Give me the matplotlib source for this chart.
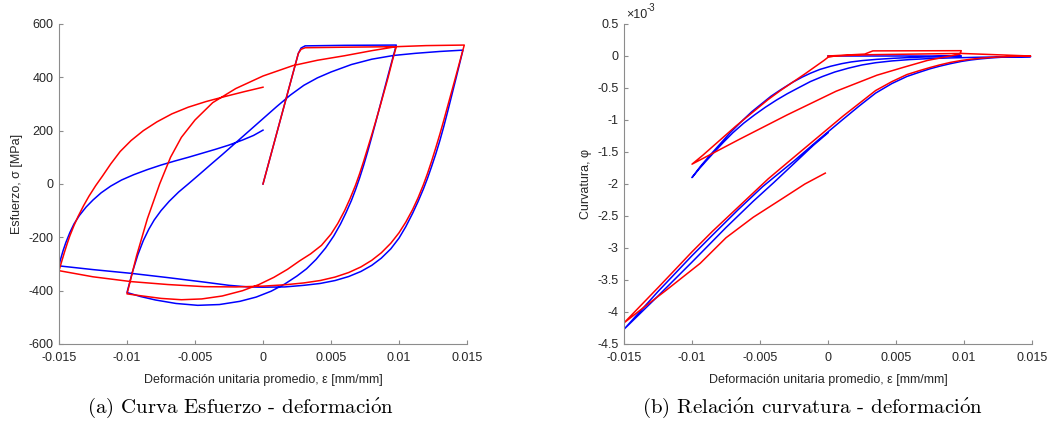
import matplotlib
matplotlib.use("Agg")
import matplotlib.pyplot as plt
import matplotlib.ticker as mt
import numpy as np

plt.rcParams['font.family'] = ['Liberation Sans', 'DejaVu Sans']
plt.rcParams['axes.unicode_minus'] = False
plt.rcParams['mathtext.fontset'] = 'cm'

# ---- esfuerzo - deformacion (eps, MPa), rama por rama ----
red_sig = [
    # carga inicial
    [(0, 0), (0.0026, 490), (0.0028, 505), (0.0031, 511), (0.006, 513), (0.0098, 515)],
    # descarga 1
    [(0.0095, 460), (0.0092, 400), (0.0089, 345), (0.0086, 290), (0.0083, 237), (0.008, 185),
     (0.0077, 135), (0.0074, 85), (0.0071, 38), (0.0068, -5), (0.0064, -55), (0.006, -100),
     (0.0055, -148), (0.005, -188), (0.0043, -230), (0.0035, -262), (0.0027, -288),
     (0.0018, -320), (0.0008, -350), (-0.0003, -377), (-0.0015, -400), (-0.003, -420),
     (-0.0045, -431), (-0.006, -434), (-0.0075, -429), (-0.009, -419), (-0.01, -412)],
    # recarga 1
    [(-0.0093, -270), (-0.0085, -130), (-0.0076, 0), (-0.0068, 100), (-0.006, 175),
     (-0.005, 240), (-0.0037, 305), (-0.002, 358), (0, 405), (0.0022, 444), (0.004, 464),
     (0.006, 481), (0.008, 500), (0.0098, 515), (0.012, 519), (0.0148, 521)],
    # descarga 2
    [(0.0145, 465), (0.0142, 408), (0.0139, 352), (0.0136, 296), (0.0133, 240), (0.013, 186),
     (0.0127, 135), (0.0124, 86), (0.0121, 40), (0.0118, -2), (0.0114, -52), (0.011, -96),
     (0.0105, -143), (0.01, -183), (0.0094, -222), (0.0087, -258), (0.008, -286),
     (0.0072, -311), (0.0063, -332), (0.0053, -349), (0.0042, -362), (0.003, -371),
     (0.0016, -378), (0, -383), (-0.002, -386), (-0.0043, -385), (-0.007, -377),
     (-0.0097, -366), (-0.0125, -348), (-0.015, -325)],
    # recarga 2
    [(-0.0148, -290), (-0.0146, -256), (-0.0144, -224), (-0.0142, -194), (-0.0139, -156),
     (-0.0136, -122), (-0.0132, -82), (-0.0128, -46), (-0.0123, -6), (-0.0118, 30),
     (-0.0112, 75), (-0.0105, 122), (-0.0097, 163), (-0.0088, 200), (-0.0078, 233),
     (-0.0067, 263), (-0.0055, 288), (-0.0042, 309), (-0.0028, 328), (-0.0014, 346), (0, 363)],
]

blue_sig = [
    [(0, 0), (0.0026, 490), (0.0028, 510), (0.0031, 518), (0.006, 520), (0.0098, 521)],
    [(0.0095, 465), (0.0092, 408), (0.0089, 350), (0.0086, 292), (0.0083, 234), (0.008, 177),
     (0.0077, 122), (0.0074, 70), (0.0071, 22), (0.0068, -22), (0.0065, -62), (0.0061, -108),
     (0.0057, -150), (0.0052, -195), (0.0046, -240), (0.0039, -283), (0.0032, -318),
     (0.0025, -345), (0.0016, -375), (0.0006, -402), (-0.0005, -424), (-0.0017, -440),
     (-0.0032, -452), (-0.0048, -455), (-0.0064, -448), (-0.0079, -435), (-0.009, -422),
     (-0.01, -407)],
    [(-0.0096, -330), (-0.0092, -265), (-0.0088, -212), (-0.0084, -170), (-0.008, -135),
     (-0.0075, -100), (-0.0069, -65), (-0.0062, -30), (-0.0055, 0), (-0.0047, 35),
     (-0.0038, 75), (-0.003, 110), (-0.002, 155), (-0.001, 200), (0, 245), (0.001, 290),
     (0.002, 333), (0.003, 370), (0.004, 398), (0.005, 420), (0.0065, 448), (0.008, 468),
     (0.0096, 482), (0.0112, 490), (0.013, 497), (0.0147, 502)],
    [(0.0145, 460), (0.0142, 398), (0.0139, 337), (0.0136, 276), (0.0133, 217), (0.013, 162),
     (0.0127, 112), (0.0124, 66), (0.0121, 22), (0.0118, -18), (0.0114, -66), (0.011, -110),
     (0.0105, -160), (0.01, -203), (0.0094, -243), (0.0087, -278), (0.008, -305),
     (0.0072, -328), (0.0063, -347), (0.0053, -362), (0.0042, -373), (0.003, -380),
     (0.0016, -386), (0, -387), (-0.0011, -386), (-0.0025, -380), (-0.0043, -368),
     (-0.007, -351), (-0.0097, -335), (-0.0125, -321), (-0.015, -307)],
    [(-0.0149, -285), (-0.0147, -250), (-0.0145, -220), (-0.0142, -182), (-0.0139, -150),
     (-0.0135, -118), (-0.013, -86), (-0.0125, -60), (-0.0119, -33), (-0.0112, -8),
     (-0.0104, 15), (-0.0095, 35), (-0.0085, 54), (-0.0075, 71), (-0.0065, 86),
     (-0.0055, 100), (-0.0045, 115), (-0.0035, 130), (-0.0025, 146), (-0.0015, 165),
     (-0.0007, 182), (0, 202)],
]

# ---- curvatura - deformacion (eps, phi x 1e-3) ----
red_phi = [
    [(0, 0), (0.0027, 0.03), (0.0033, 0.08), (0.0098, 0.083)],
    [(0.0097, 0.03), (0.0085, -0.02), (0.0073, -0.07), (0.0055, -0.18), (0.0036, -0.30),
     (0.0006, -0.55), (-0.003, -0.92), (-0.0065, -1.30), (-0.01, -1.69)],
    [(-0.0092, -1.55), (-0.0084, -1.40), (-0.0076, -1.25), (-0.0068, -1.10), (-0.006, -0.96),
     (-0.0052, -0.82), (-0.0044, -0.68), (-0.0035, -0.54), (-0.0026, -0.41), (-0.0017, -0.28),
     (-0.0009, -0.16), (-0.0003, -0.07), (0, -0.02), (0.0005, 0.0), (0.003, 0.02),
     (0.0098, 0.04), (0.0149, 0.0)],
    [(0.0142, -0.003), (0.0135, -0.007), (0.0127, -0.014), (0.012, -0.022), (0.0112, -0.035),
     (0.0105, -0.05), (0.0098, -0.07), (0.009, -0.1), (0.0082, -0.14), (0.0075, -0.18),
     (0.0067, -0.23), (0.0058, -0.29), (0.0047, -0.40), (0.0035, -0.54), (0.0023, -0.74),
     (0.0011, -0.94), (-0.0007, -1.26), (-0.0025, -1.58), (-0.0044, -1.92), (-0.0064, -2.32),
     (-0.0085, -2.74), (-0.01, -3.06), (-0.0125, -3.62), (-0.015, -4.17)],
    [(-0.0135, -3.92), (-0.0119, -3.66), (-0.0094, -3.24), (-0.0075, -2.84), (-0.0055, -2.52),
     (-0.0033, -2.22), (-0.0017, -2.0), (-0.0002, -1.83)],
]

blue_phi = [
    [(0, 0), (0.0098, 0.0)],
    [(0.0085, -0.006), (0.0075, -0.013), (0.0062, -0.022), (0.0048, -0.036), (0.0036, -0.052),
     (0.0025, -0.072), (0.0017, -0.093), (0.001, -0.12), (0.0002, -0.16), (-0.0006, -0.21),
     (-0.0013, -0.27), (-0.0019, -0.33), (-0.0026, -0.41), (-0.0035, -0.53), (-0.0042, -0.63),
     (-0.0049, -0.75), (-0.0056, -0.87), (-0.0063, -1.01), (-0.0072, -1.2), (-0.008, -1.39),
     (-0.0088, -1.58), (-0.0094, -1.73), (-0.01, -1.9)],
    [(-0.0095, -1.77), (-0.009, -1.65), (-0.0084, -1.51), (-0.0077, -1.35), (-0.007, -1.2),
     (-0.0062, -1.05), (-0.0054, -0.92), (-0.0046, -0.80), (-0.0038, -0.69), (-0.003, -0.59),
     (-0.0022, -0.50), (-0.0013, -0.40), (-0.0004, -0.32), (0.0005, -0.25), (0.0015, -0.19),
     (0.0025, -0.14), (0.0035, -0.105), (0.0047, -0.077), (0.006, -0.056), (0.0075, -0.04),
     (0.009, -0.03), (0.011, -0.02), (0.013, -0.013), (0.0149, -0.01)],
    [(0.0142, -0.012), (0.0135, -0.015), (0.0127, -0.02), (0.012, -0.03), (0.0112, -0.045),
     (0.0105, -0.062), (0.0098, -0.085), (0.009, -0.12), (0.0082, -0.16), (0.0075, -0.2),
     (0.0067, -0.255), (0.0058, -0.32), (0.0047, -0.43), (0.0035, -0.58), (0.0023, -0.78),
     (0.0011, -0.99), (-0.0007, -1.31), (-0.0025, -1.64), (-0.0048, -2.04), (-0.0066, -2.4),
     (-0.0085, -2.8), (-0.01, -3.12), (-0.0125, -3.68), (-0.015, -4.27)],
    [(-0.0125, -3.75), (-0.01, -3.22), (-0.0075, -2.68), (-0.0055, -2.27), (-0.004, -1.98),
     (-0.0025, -1.68), (-0.0011, -1.4), (0, -1.2)],
]

eps_ticks = [-0.015, -0.01, -0.005, 0, 0.005, 0.01, 0.015]
sig_ticks = [-600, -400, -200, 0, 200, 400, 600]
phi_ticks = [-4.5, -4, -3.5, -3, -2.5, -2, -1.5, -1, -0.5, 0, 0.5]

TXT = '#262626'
AXC = '#8c8c8c'


def path(branches, scale=1.0):
    pts = np.array([p for b in branches for p in b])
    return pts[:, 0], pts[:, 1] * scale


def style_axes(ax):
    for s in ['top', 'right']:
        ax.spines[s].set_visible(False)
    for s in ['left', 'bottom']:
        ax.spines[s].set_color(AXC)
        ax.spines[s].set_linewidth(0.8)
    ax.tick_params(direction='in', length=3, width=0.8, color=AXC,
                   labelcolor=TXT, labelsize=9)
    ax.tick_params(axis='x', pad=6)
    ax.tick_params(axis='y', pad=4)
    ax.xaxis.set_major_formatter(mt.FuncFormatter(lambda v, p: '%g' % v))
    ax.yaxis.set_major_formatter(mt.FuncFormatter(lambda v, p: '%g' % v))


fig = plt.figure(figsize=(10.52, 4.30), dpi=100)
ax1 = fig.add_axes([59 / 1052, 1 - 344 / 430, 408 / 1052, 320 / 430])
ax2 = fig.add_axes([624 / 1052, 1 - 344 / 430, 408 / 1052, 320 / 430])

xlab = 'Deformación unitaria promedio, ε [mm/mm]'

# esfuerzo
x, y = path(blue_sig)
ax1.plot(x, y, color='blue', lw=1.1)
x, y = path(red_sig)
ax1.plot(x, y, color='red', lw=1.1)
ax1.set_xlim(-0.015, 0.015)
ax1.set_ylim(-600, 600)
ax1.set_xticks(eps_ticks)
ax1.set_yticks(sig_ticks)
style_axes(ax1)
ax1.set_xlabel(xlab, fontsize=9, color=TXT, labelpad=7)
ax1.set_ylabel('Esfuerzo, σ [MPa]', fontsize=9, color=TXT, labelpad=4)

# curvatura
x, y = path(blue_phi, 1e-3)
ax2.plot(x, y, color='blue', lw=1.1)
x, y = path(red_phi, 1e-3)
ax2.plot(x, y, color='red', lw=1.1)
ax2.set_xlim(-0.015, 0.015)
ax2.set_ylim(-4.5e-3, 0.5e-3)
ax2.set_xticks(eps_ticks)
ax2.set_yticks([t * 1e-3 for t in phi_ticks])
style_axes(ax2)
ax2.yaxis.set_major_formatter(mt.FuncFormatter(lambda v, p: '%g' % round(v * 1e3, 4)))
ax2.text(0.004, 1.01, '×10', transform=ax2.transAxes, fontsize=9,
         color=TXT, ha='left', va='bottom')
ax2.text(0.056, 1.035, '-3', transform=ax2.transAxes, fontsize=7,
         color=TXT, ha='left', va='bottom')
ax2.set_xlabel(xlab, fontsize=9, color=TXT, labelpad=7)
ax2.set_ylabel('Curvatura, φ', fontsize=9, color=TXT, labelpad=4)

# subtitulos
acc = r'$\mathrm{\acute{o}}$'
fig.text(240 / 1052, 1 - 408 / 430, '(a) Curva Esfuerzo - deformaci' + acc + 'n',
         family='cmr10', fontsize=15, ha='center', va='center')
fig.text(812 / 1052, 1 - 408 / 430, '(b) Relaci' + acc + 'n curvatura - deformaci' + acc + 'n',
         family='cmr10', fontsize=15, ha='center', va='center')

fig.savefig('out.png', dpi=100)
